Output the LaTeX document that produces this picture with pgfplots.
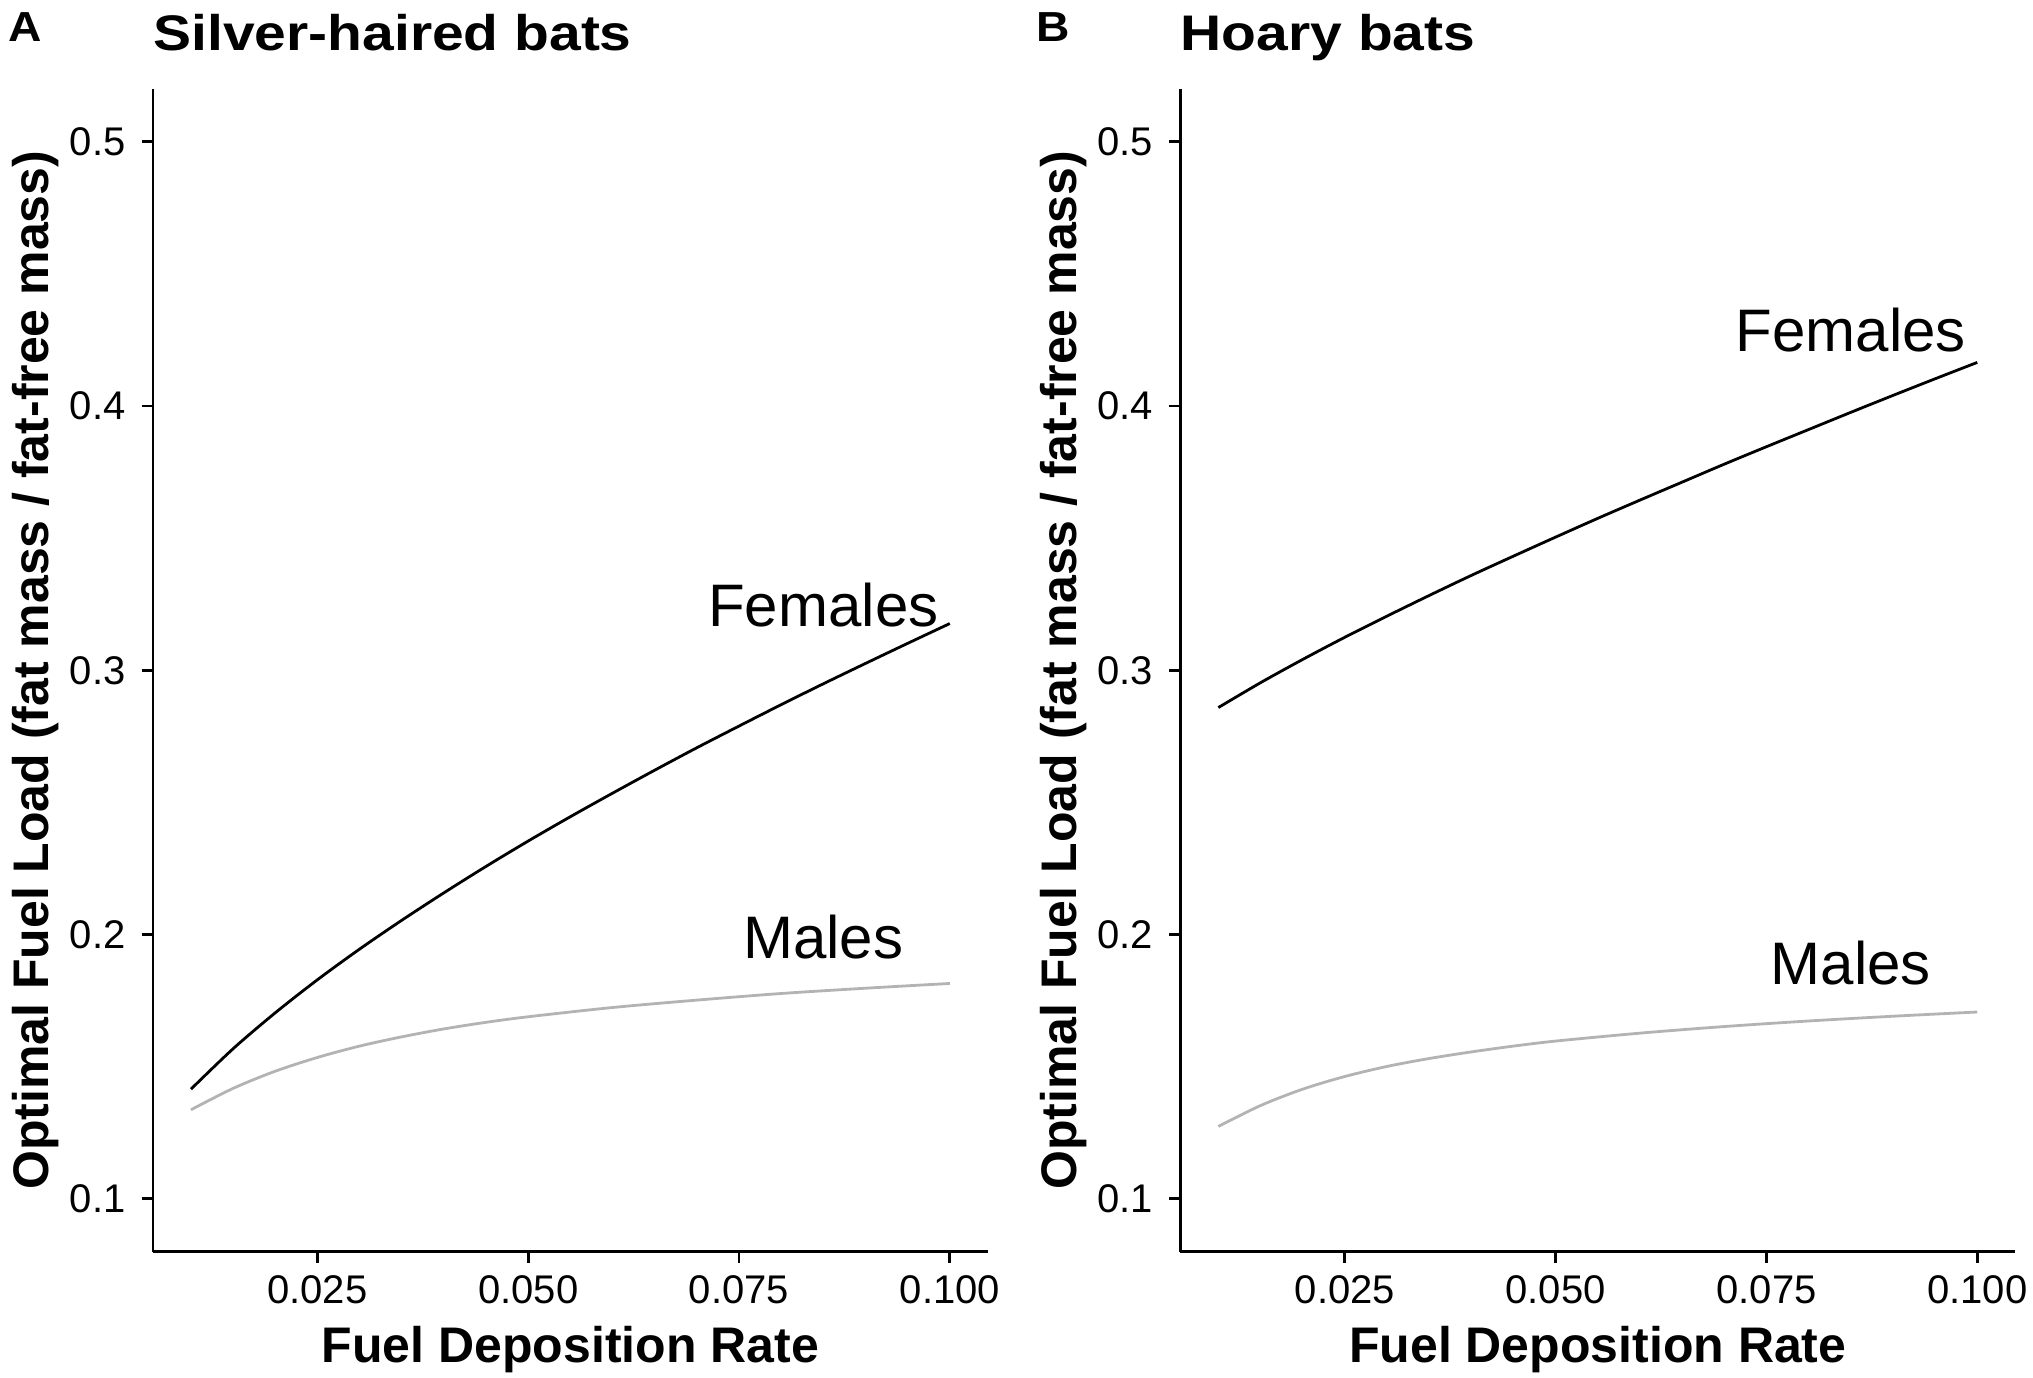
\documentclass[border=0pt]{standalone}
\usepackage{fontspec}
\setmainfont{Liberation Sans}
\newfontfamily\titlefont{Liberation Sans}[FakeStretch=1.14]
\newfontfamily\panfont{Liberation Sans}[FakeStretch=1.1]
\usepackage{pgfplots}
\pgfplotsset{compat=1.18}
\definecolor{malegrey}{RGB}{179,179,179}

\pgfplotstableread{
x y
0.010 0.1415
0.015 0.1568
0.020 0.1704
0.025 0.1829
0.030 0.1945
0.035 0.2054
0.040 0.2158
0.045 0.2258
0.050 0.2354
0.055 0.2446
0.060 0.2535
0.065 0.2622
0.070 0.2707
0.075 0.2789
0.080 0.2870
0.085 0.2949
0.090 0.3026
0.095 0.3102
0.100 0.3177
}\femA
\pgfplotstableread{
x y
0.010 0.1337
0.015 0.1418
0.020 0.1483
0.025 0.1535
0.030 0.1578
0.035 0.1613
0.040 0.1643
0.045 0.1668
0.050 0.1689
0.060 0.1724
0.070 0.1752
0.080 0.1777
0.090 0.1797
0.100 0.1815
}\malA
\pgfplotstableread{
x y
0.010 0.2859
0.015 0.2953
0.020 0.3041
0.025 0.3125
0.030 0.3205
0.035 0.3283
0.040 0.3359
0.045 0.3432
0.050 0.3504
0.055 0.3575
0.060 0.3644
0.065 0.3712
0.070 0.3780
0.075 0.3846
0.080 0.3911
0.085 0.3976
0.090 0.4040
0.095 0.4103
0.100 0.4165
}\femB
\pgfplotstableread{
x y
0.010 0.1274
0.015 0.1353
0.020 0.1415
0.025 0.1463
0.030 0.1501
0.035 0.1531
0.040 0.1556
0.045 0.1578
0.050 0.1597
0.060 0.1627
0.070 0.1652
0.080 0.1673
0.090 0.1691
0.100 0.1707
}\malB

\tikzset{
  fem/.style={black, line width=1.4bp, smooth},
  mal/.style={malegrey, line width=1.4bp, smooth},
  lab/.style={font=\fontsize{30bp}{36bp}\selectfont, anchor=center, inner sep=0pt},
  panlab/.style={font=\panfont\bfseries\fontsize{21bp}{25bp}\selectfont, anchor=base west, inner sep=0pt},
}

\pgfplotsset{panel/.style={
  width=417.4bp, height=581.4bp, scale only axis, clip=false,
  anchor=south west,
  xmin=0.0055, xmax=0.1045, ymin=0.08, ymax=0.52,
  axis lines=left, axis line style={-, line width=1.35bp, black},
  xtick={0.025,0.05,0.075,0.1}, xticklabels={0.025,0.050,0.075,0.100},
  ytick={0.1,0.2,0.3,0.4,0.5}, yticklabels={0.1,0.2,0.3,0.4,0.5},
  scaled ticks=false, minor tick num=0,
  xtick pos=bottom, ytick pos=left,
  tick align=outside, major tick length=5.5bp,
  xtick style={draw=black, solid, line width=1.35bp},
  ytick style={draw=black, solid, line width=1.35bp},
  xticklabel style={font=\fontsize{20bp}{24bp}\selectfont, anchor=north, inner sep=0pt, yshift=-6bp},
  yticklabel style={font=\fontsize{20bp}{24bp}\selectfont, anchor=east, inner sep=0pt, xshift=-8bp},
  xlabel={Fuel Deposition Rate},
  xlabel style={at={(axis description cs:0.5,-0.0957)}, anchor=base, inner sep=0pt, font=\bfseries\fontsize{25bp}{30bp}\selectfont},
  ylabel={Optimal Fuel Load (fat mass / fat-free mass)},
  ylabel style={at={(axis description cs:-0.1246,0.5)}, anchor=base, inner sep=0pt, font=\bfseries\fontsize{25bp}{30bp}\selectfont},
  title style={at={(axis description cs:0,1.0329)}, anchor=base west, yshift=-6pt, inner sep=0pt, font=\titlefont\bfseries\fontsize{25bp}{30bp}\selectfont},
}}

\begin{document}
\begin{tikzpicture}
\path[use as bounding box] (0,0) rectangle (1016.5bp,689bp);
\begin{axis}[panel, at={(76.5bp,63.15bp)}, title={Silver-haired bats}]
\addplot[fem] table[x=x,y=y] {\femA};
\addplot[mal] table[x=x,y=y] {\malA};
\node[lab] at (axis cs:0.085,0.3245) {Females};
\node[lab] at (axis cs:0.085,0.199) {Males};
\node[panlab] at (axis description cs:-0.1732,1.0406) {A};
\end{axis}
\begin{axis}[panel, at={(590.2bp,63.15bp)}, title={Hoary bats}]
\addplot[fem] table[x=x,y=y] {\femB};
\addplot[mal] table[x=x,y=y] {\malB};
\node[lab] at (axis cs:0.085,0.4287) {Females};
\node[lab] at (axis cs:0.085,0.1891) {Males};
\node[panlab] at (axis description cs:-0.1732,1.0406) {B};
\end{axis}
\end{tikzpicture}
\end{document}
